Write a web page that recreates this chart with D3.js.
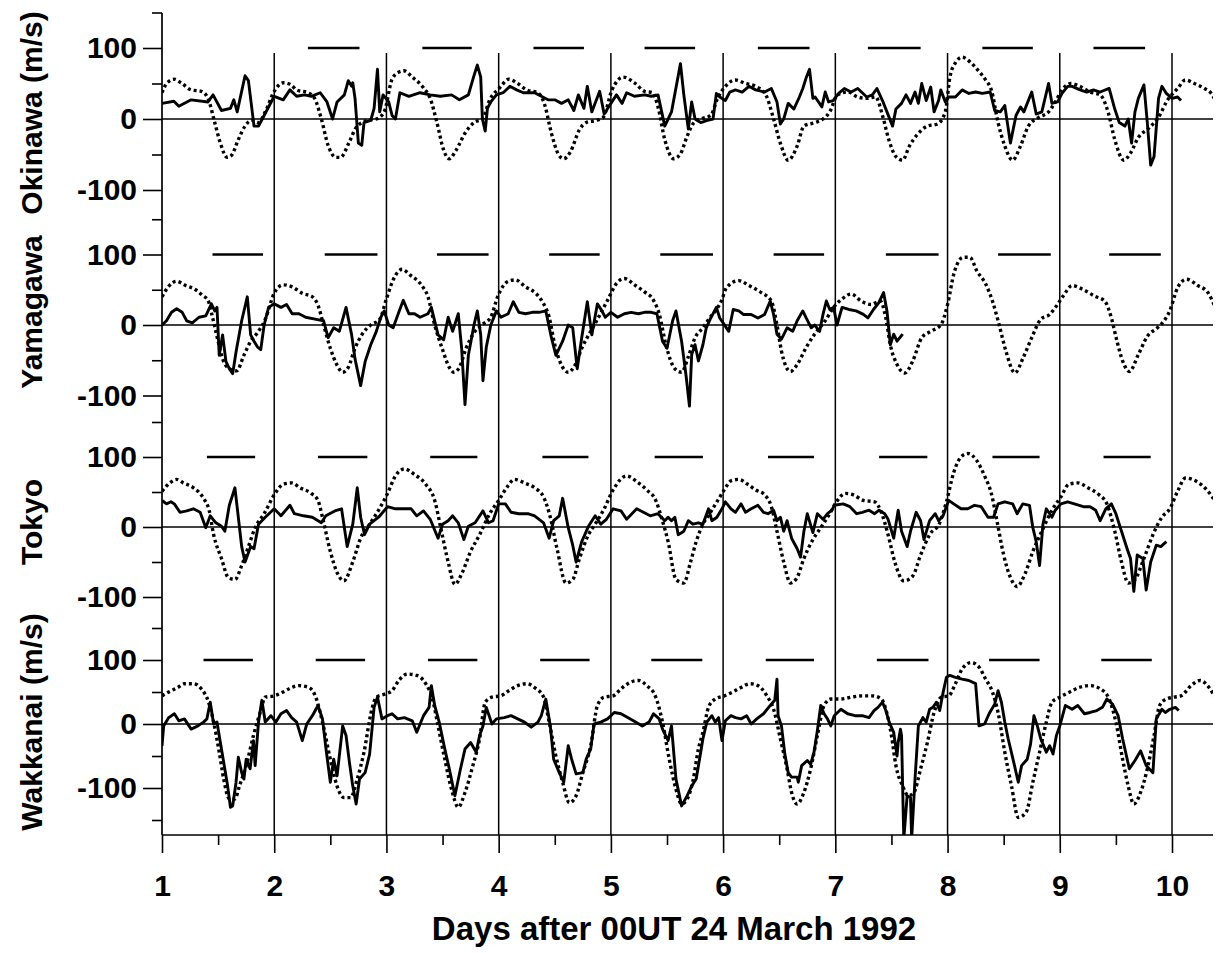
<!DOCTYPE html>
<html><head><meta charset="utf-8">
<script src="https://cdn.jsdelivr.net/npm/d3@7"></script>
<style>
body{margin:0;background:#fff}
svg{display:block}
text{font-family:"Liberation Sans",Arial,sans-serif;fill:#000}
</style>
</head><body><svg id="c" width="1217" height="953"></svg>
<script>
// ---------------- data ----------------
const stations = ["Okinawa", "Yamagawa", "Tokyo", "Wakkanai"];
const yTitles = ["Okinawa (m/s)", "Yamagawa", "Tokyo", "Wakkanai (m/s)"];
const dayTicks = [1, 2, 3, 4, 5, 6, 7, 8, 9, 10];
const valueTicks = [-100, 0, 100];
const valueTickLabels = ["-100", "0", "100"];
const xTitle = "Days after 00UT 24 March 1992";

const okinawaObs = [[1.00,22],[1.106,25],[1.15,18],[1.26,27],[1.41,24],[1.455,34],[1.53,12],[1.61,15],[1.64,27],[1.67,10],[1.74,61],[1.77,54],[1.82,-10],[1.86,-10],[1.91,5],[2.00,32],[2.08,27],[2.14,41],[2.20,32],[2.27,34],[2.33,32],[2.41,37],[2.47,24],[2.52,0],[2.56,24],[2.625,34],[2.66,54],[2.69,46],[2.70,51],[2.72,29],[2.75,-34],[2.78,-37],[2.80,-5],[2.86,-2],[2.89,15],[2.92,70],[2.94,10],[2.97,34],[3.02,24],[3.05,5],[3.08,0],[3.12,37],[3.20,32],[3.30,37],[3.39,34],[3.48,32],[3.58,34],[3.65,27],[3.73,34],[3.78,61],[3.81,76],[3.84,59],[3.855,0],[3.88,-17],[3.90,15],[3.93,24],[3.98,34],[4.04,37],[4.10,46],[4.16,41],[4.22,37],[4.32,37],[4.38,32],[4.44,27],[4.50,27],[4.56,22],[4.62,27],[4.67,12],[4.71,34],[4.76,15],[4.79,46],[4.83,10],[4.90,39],[4.94,7],[5.00,22],[5.05,34],[5.10,22],[5.14,37],[5.21,32],[5.30,34],[5.36,32],[5.42,34],[5.48,-10],[5.54,10],[5.62,78],[5.65,34],[5.69,-14],[5.72,24],[5.75,0],[5.80,-5],[5.86,-2],[5.91,0],[5.94,36],[5.97,31],[6.02,26],[6.06,38],[6.11,41],[6.17,38],[6.23,46],[6.29,41],[6.37,38],[6.43,43],[6.48,24],[6.51,-7],[6.54,0],[6.58,22],[6.63,14],[6.68,31],[6.71,43],[6.74,58],[6.77,70],[6.80,29],[6.82,31],[6.88,17],[6.91,38],[6.94,24],[6.98,26],[7.03,36],[7.08,43],[7.14,38],[7.20,43],[7.28,31],[7.33,34],[7.37,43],[7.42,26],[7.46,10],[7.51,-10],[7.54,14],[7.59,22],[7.63,34],[7.67,22],[7.71,38],[7.74,22],[7.77,50],[7.81,26],[7.85,45],[7.88,10],[7.92,26],[7.94,41],[7.98,24],[8.01,31],[8.07,31],[8.13,41],[8.19,36],[8.25,38],[8.31,36],[8.38,38],[8.42,12],[8.47,10],[8.51,19],[8.56,-34],[8.61,5],[8.65,17],[8.68,10],[8.75,38],[8.79,7],[8.84,10],[8.90,50],[8.93,22],[8.98,24],[9.02,36],[9.07,46],[9.11,46],[9.18,41],[9.24,38],[9.30,41],[9.36,38],[9.44,43],[9.49,14],[9.53,-5],[9.58,-10],[9.61,0],[9.64,-34],[9.67,10],[9.70,29],[9.75,48],[9.78,-5],[9.81,-65],[9.84,-53],[9.88,29],[9.91,46],[9.95,36],[10.00,29],[10.05,31],[10.08,26]];
const okinawaModel = [[1.00,37],[1.045,51],[1.11,56],[1.17,51],[1.26,41],[1.35,39],[1.41,29],[1.47,-5],[1.52,-34],[1.58,-54],[1.62,-51],[1.68,-29],[1.74,-10],[1.80,-2],[1.86,-5],[1.92,10],[2.00,39],[2.08,51],[2.14,49],[2.20,41],[2.30,37],[2.36,29],[2.42,0],[2.48,-37],[2.55,-54],[2.59,-54],[2.67,-32],[2.73,-12],[2.83,-2],[2.91,0],[2.98,10],[3.05,56],[3.11,66],[3.155,68],[3.23,59],[3.33,44],[3.39,29],[3.45,-5],[3.51,-44],[3.56,-56],[3.62,-44],[3.70,-20],[3.78,-5],[3.855,0],[3.92,27],[4.01,44],[4.09,56],[4.16,51],[4.25,41],[4.35,37],[4.41,20],[4.47,-20],[4.53,-49],[4.58,-56],[4.64,-46],[4.72,-15],[4.78,-5],[4.87,-2],[4.93,2],[5.01,41],[5.11,59],[5.21,51],[5.30,39],[5.37,37],[5.42,17],[5.48,-29],[5.56,-56],[5.62,-49],[5.68,-24],[5.74,-5],[5.80,0],[5.89,5],[5.95,29],[6.02,46],[6.11,55],[6.20,50],[6.29,46],[6.38,34],[6.45,0],[6.51,-34],[6.58,-58],[6.66,-38],[6.72,-10],[6.82,-5],[6.89,0],[6.95,10],[7.02,34],[7.11,38],[7.20,31],[7.28,29],[7.36,31],[7.42,5],[7.48,-31],[7.54,-53],[7.60,-58],[7.66,-38],[7.73,-22],[7.82,-10],[7.91,-7],[7.98,10],[8.02,58],[8.07,79],[8.13,87],[8.21,79],[8.28,67],[8.34,55],[8.39,41],[8.45,-5],[8.51,-38],[8.58,-58],[8.65,-38],[8.72,-10],[8.81,2],[8.90,10],[8.96,24],[9.02,41],[9.10,50],[9.18,46],[9.27,38],[9.36,34],[9.43,10],[9.49,-29],[9.57,-58],[9.63,-48],[9.70,-26],[9.80,-12],[9.89,5],[9.95,24],[10.05,43],[10.12,55],[10.20,50],[10.29,43],[10.35,36],[10.40,22]];

const yamagawaObs = [[1.00,0],[1.04,6],[1.085,18],[1.13,23],[1.18,18],[1.22,6],[1.27,3],[1.33,11],[1.39,13],[1.44,30],[1.47,20],[1.49,25],[1.51,-43],[1.54,-14],[1.57,-52],[1.60,-62],[1.63,-69],[1.66,-38],[1.71,6],[1.76,40],[1.79,-14],[1.82,-23],[1.85,-31],[1.88,-35],[1.91,0],[1.95,25],[2.00,30],[2.06,25],[2.11,29],[2.16,16],[2.22,16],[2.28,11],[2.375,8],[2.44,6],[2.48,-18],[2.53,-4],[2.58,-9],[2.64,25],[2.69,-14],[2.72,-48],[2.77,-86],[2.81,-52],[2.86,-28],[2.91,-9],[2.95,11],[2.98,20],[3.02,0],[3.06,-4],[3.11,18],[3.15,35],[3.20,16],[3.25,16],[3.30,11],[3.37,16],[3.40,25],[3.46,-14],[3.51,-21],[3.55,11],[3.59,-9],[3.64,16],[3.67,-33],[3.70,-113],[3.73,-43],[3.78,0],[3.81,20],[3.84,-14],[3.86,-79],[3.89,-31],[3.93,0],[3.98,20],[4.02,11],[4.085,16],[4.13,33],[4.18,18],[4.24,16],[4.30,18],[4.36,18],[4.42,20],[4.47,-18],[4.51,-43],[4.57,-23],[4.62,0],[4.66,-4],[4.70,-62],[4.74,-18],[4.79,33],[4.83,-14],[4.88,30],[4.92,20],[4.95,11],[5.00,18],[5.06,11],[5.12,16],[5.18,18],[5.245,16],[5.30,18],[5.36,18],[5.41,16],[5.46,-23],[5.50,-33],[5.55,6],[5.58,20],[5.63,-23],[5.67,-72],[5.70,-115],[5.72,-42],[5.75,-28],[5.78,-51],[5.82,-28],[5.85,-4],[5.89,10],[5.94,25],[5.97,10],[6.00,3],[6.05,-9],[6.09,22],[6.14,20],[6.18,15],[6.25,15],[6.31,10],[6.37,15],[6.42,34],[6.45,15],[6.48,-13],[6.52,-20],[6.57,-4],[6.62,-9],[6.66,6],[6.71,20],[6.74,10],[6.785,-4],[6.815,0],[6.86,-9],[6.89,15],[6.92,34],[6.95,22],[6.985,25],[7.015,0],[7.06,25],[7.12,22],[7.185,20],[7.25,15],[7.29,10],[7.34,22],[7.385,31],[7.43,46],[7.46,20],[7.49,-28],[7.52,-13],[7.55,-23],[7.60,-13]];
const yamagawaModel = [[1.00,40],[1.055,54],[1.13,62],[1.21,56],[1.30,50],[1.36,42],[1.41,35],[1.45,11],[1.50,-23],[1.54,-48],[1.60,-62],[1.665,-65],[1.73,-43],[1.79,-23],[1.85,-11],[1.92,8],[2.00,45],[2.08,57],[2.16,54],[2.25,45],[2.34,40],[2.39,28],[2.44,0],[2.50,-33],[2.56,-57],[2.61,-67],[2.66,-60],[2.72,-33],[2.78,-14],[2.86,0],[2.94,8],[3.00,37],[3.06,64],[3.14,79],[3.21,71],[3.31,57],[3.37,40],[3.43,0],[3.50,-35],[3.56,-60],[3.60,-67],[3.65,-60],[3.71,-33],[3.78,-11],[3.85,0],[3.93,11],[3.99,40],[4.085,62],[4.15,64],[4.24,54],[4.33,45],[4.39,33],[4.45,11],[4.50,-28],[4.56,-57],[4.62,-67],[4.68,-57],[4.74,-33],[4.82,-9],[4.88,8],[4.97,35],[5.05,59],[5.12,66],[5.21,57],[5.30,47],[5.38,35],[5.43,16],[5.49,-28],[5.57,-62],[5.63,-67],[5.69,-45],[5.75,-18],[5.82,-4],[5.88,10],[5.94,22],[5.985,34],[6.03,53],[6.14,63],[6.23,56],[6.34,46],[6.43,34],[6.48,0],[6.52,-37],[6.60,-66],[6.66,-56],[6.74,-32],[6.815,-13],[6.91,6],[6.985,25],[7.06,37],[7.14,44],[7.23,34],[7.32,29],[7.40,34],[7.45,10],[7.49,-28],[7.55,-56],[7.62,-68],[7.69,-51],[7.77,-18],[7.85,-9],[7.94,0],[8.00,29],[8.06,75],[8.14,96],[8.20,96],[8.26,77],[8.34,58],[8.40,34],[8.46,0],[8.52,-37],[8.60,-68],[8.675,-46],[8.75,-18],[8.83,8],[8.91,15],[8.97,27],[9.03,41],[9.11,56],[9.20,51],[9.31,41],[9.40,34],[9.46,10],[9.51,-23],[9.56,-51],[9.62,-66],[9.70,-42],[9.78,-16],[9.87,-4],[9.93,6],[9.98,20],[10.05,53],[10.13,65],[10.23,56],[10.32,46],[10.38,27]];

const tokyoObs = [[1.00,38],[1.04,33],[1.08,36],[1.11,33],[1.16,21],[1.22,23],[1.28,26],[1.34,21],[1.39,-1],[1.43,16],[1.48,6],[1.53,1],[1.56,-6],[1.60,31],[1.65,56],[1.68,14],[1.71,-28],[1.74,-50],[1.79,-28],[1.82,-31],[1.86,4],[1.92,14],[2.00,26],[2.06,16],[2.14,31],[2.18,19],[2.26,16],[2.34,14],[2.42,6],[2.46,16],[2.54,23],[2.60,26],[2.65,-28],[2.70,4],[2.74,56],[2.77,14],[2.805,-11],[2.85,4],[2.93,14],[3.01,29],[3.08,26],[3.14,26],[3.22,26],[3.27,16],[3.33,23],[3.39,11],[3.46,-16],[3.50,4],[3.55,9],[3.59,16],[3.64,6],[3.69,-18],[3.73,1],[3.79,6],[3.86,23],[3.91,6],[3.95,9],[4.00,33],[4.06,33],[4.11,21],[4.18,19],[4.26,19],[4.32,16],[4.40,6],[4.45,-16],[4.49,9],[4.54,16],[4.57,41],[4.62,-1],[4.66,-26],[4.69,-50],[4.74,-21],[4.80,1],[4.86,16],[4.91,4],[4.96,11],[5.02,26],[5.09,23],[5.14,11],[5.23,26],[5.29,21],[5.35,16],[5.42,19],[5.48,9],[5.51,14],[5.54,9],[5.57,14],[5.60,-11],[5.65,-6],[5.69,9],[5.73,4],[5.78,6],[5.82,4],[5.87,26],[5.90,9],[5.945,14],[5.99,26],[6.02,36],[6.07,26],[6.11,21],[6.16,33],[6.20,21],[6.25,26],[6.31,31],[6.36,21],[6.40,19],[6.45,24],[6.48,9],[6.51,14],[6.54,-6],[6.57,9],[6.61,-16],[6.66,-31],[6.69,-43],[6.72,-6],[6.75,19],[6.80,-8],[6.84,19],[6.89,11],[6.93,19],[6.97,24],[6.99,31],[7.07,33],[7.13,29],[7.19,19],[7.24,21],[7.30,24],[7.35,19],[7.39,24],[7.44,19],[7.47,11],[7.52,-16],[7.56,24],[7.59,-6],[7.64,-28],[7.67,-6],[7.72,21],[7.76,9],[7.79,-18],[7.84,9],[7.89,19],[7.92,9],[7.96,16],[8.01,38],[8.055,33],[8.12,26],[8.18,26],[8.24,31],[8.30,29],[8.36,14],[8.41,14],[8.45,33],[8.51,36],[8.58,33],[8.62,19],[8.67,33],[8.73,31],[8.76,-1],[8.79,-21],[8.82,-55],[8.85,4],[8.88,26],[8.93,14],[8.96,24],[9.01,33],[9.07,36],[9.13,33],[9.21,29],[9.27,29],[9.32,24],[9.36,9],[9.41,26],[9.46,33],[9.50,19],[9.55,-6],[9.60,-31],[9.63,-45],[9.66,-92],[9.69,-40],[9.74,-45],[9.77,-90],[9.81,-50],[9.86,-26],[9.90,-28],[9.95,-21]];
const tokyoModel = [[1.00,51],[1.07,63],[1.13,68],[1.19,63],[1.28,56],[1.37,41],[1.42,24],[1.46,-11],[1.53,-45],[1.59,-72],[1.65,-75],[1.71,-55],[1.77,-28],[1.83,-1],[1.91,19],[2.00,46],[2.08,61],[2.155,63],[2.23,56],[2.33,48],[2.39,38],[2.43,14],[2.50,-35],[2.56,-65],[2.62,-77],[2.70,-50],[2.77,-16],[2.85,4],[2.93,24],[3.01,48],[3.08,73],[3.16,83],[3.25,75],[3.35,61],[3.43,38],[3.49,-6],[3.55,-50],[3.61,-82],[3.67,-67],[3.75,-35],[3.83,-11],[3.92,19],[4.00,38],[4.08,58],[4.14,68],[4.23,63],[4.32,56],[4.40,43],[4.46,14],[4.52,-31],[4.60,-80],[4.66,-75],[4.72,-45],[4.80,-11],[4.86,4],[4.94,26],[5.02,53],[5.14,73],[5.23,65],[5.32,53],[5.40,38],[5.45,14],[5.51,-21],[5.58,-75],[5.65,-80],[5.71,-50],[5.76,-21],[5.82,4],[5.88,19],[5.945,36],[6.01,53],[6.07,66],[6.14,68],[6.22,61],[6.29,53],[6.37,46],[6.43,29],[6.48,-6],[6.54,-50],[6.60,-80],[6.66,-72],[6.72,-45],[6.80,-18],[6.87,-1],[6.95,19],[7.01,36],[7.09,48],[7.16,46],[7.25,38],[7.35,36],[7.41,21],[7.47,-11],[7.53,-50],[7.61,-77],[7.69,-70],[7.76,-40],[7.84,-11],[7.93,6],[7.99,36],[8.055,78],[8.12,100],[8.18,105],[8.26,95],[8.33,73],[8.39,48],[8.44,9],[8.50,-40],[8.56,-72],[8.62,-85],[8.69,-67],[8.76,-35],[8.84,-6],[8.93,24],[9.01,43],[9.08,61],[9.16,63],[9.25,56],[9.35,46],[9.42,33],[9.49,-6],[9.55,-50],[9.61,-80],[9.67,-75],[9.75,-45],[9.83,-11],[9.91,14],[9.98,26],[10.05,51],[10.12,70],[10.22,65],[10.31,53],[10.39,36]];

const wakkanaiObs = [[1.00,-34],[1.015,-3],[1.06,10],[1.11,16],[1.15,5],[1.20,8],[1.26,-8],[1.32,-3],[1.37,3],[1.40,8],[1.43,34],[1.46,0],[1.49,3],[1.52,-29],[1.55,-60],[1.585,-97],[1.61,-130],[1.63,-128],[1.66,-91],[1.68,-52],[1.71,-76],[1.73,-86],[1.75,-55],[1.785,-70],[1.815,-26],[1.83,-65],[1.86,3],[1.89,37],[1.92,3],[1.97,13],[2.015,3],[2.06,16],[2.11,21],[2.155,10],[2.20,3],[2.25,-26],[2.29,0],[2.34,13],[2.39,29],[2.43,8],[2.46,-37],[2.50,-91],[2.53,-55],[2.56,-81],[2.61,-3],[2.64,-18],[2.67,-60],[2.70,-97],[2.73,-125],[2.76,-86],[2.81,-76],[2.85,-47],[2.89,26],[2.92,42],[2.96,8],[3.01,13],[3.05,16],[3.10,8],[3.16,10],[3.23,5],[3.27,-13],[3.33,13],[3.38,26],[3.40,60],[3.43,29],[3.47,3],[3.52,-39],[3.56,-70],[3.61,-112],[3.66,-70],[3.70,-39],[3.75,-29],[3.80,-44],[3.83,-18],[3.86,-3],[3.89,26],[3.94,0],[3.98,8],[4.05,10],[4.11,13],[4.17,8],[4.23,3],[4.29,-5],[4.35,3],[4.38,13],[4.42,39],[4.46,-3],[4.49,-55],[4.54,-76],[4.58,-91],[4.62,-34],[4.65,-55],[4.69,-78],[4.75,-76],[4.78,-55],[4.82,-39],[4.85,0],[4.91,3],[4.97,8],[5.03,18],[5.09,16],[5.15,10],[5.22,3],[5.28,-3],[5.34,3],[5.38,16],[5.43,8],[5.46,-8],[5.51,-26],[5.54,-3],[5.58,-86],[5.63,-128],[5.68,-112],[5.72,-97],[5.76,-86],[5.79,-55],[5.82,-23],[5.855,3],[5.90,13],[5.93,3],[5.96,10],[5.99,-26],[6.02,5],[6.07,13],[6.11,10],[6.16,8],[6.21,13],[6.25,0],[6.30,8],[6.36,16],[6.42,29],[6.46,37],[6.48,70],[6.49,13],[6.52,-3],[6.55,-47],[6.58,-76],[6.61,-83],[6.66,-83],[6.67,-91],[6.70,-65],[6.75,-57],[6.78,-63],[6.81,-44],[6.84,-10],[6.87,29],[6.90,16],[6.93,8],[6.96,-3],[6.99,13],[7.05,23],[7.11,16],[7.175,13],[7.24,13],[7.30,10],[7.345,21],[7.38,26],[7.42,34],[7.45,21],[7.48,3],[7.52,-13],[7.55,-50],[7.56,-29],[7.58,-8],[7.59,-18],[7.61,-180],[7.64,-112],[7.67,-115],[7.68,-180],[7.71,-86],[7.74,-3],[7.78,10],[7.81,3],[7.84,23],[7.87,26],[7.90,34],[7.93,21],[7.96,49],[7.99,73],[8.02,76],[8.07,73],[8.13,70],[8.19,68],[8.25,63],[8.28,-3],[8.33,0],[8.37,16],[8.42,31],[8.45,52],[8.48,34],[8.51,3],[8.54,-23],[8.59,-60],[8.63,-91],[8.66,-65],[8.71,-55],[8.74,-31],[8.77,13],[8.80,-3],[8.83,-23],[8.88,-44],[8.91,-34],[8.94,-47],[8.97,-18],[9.00,-3],[9.05,29],[9.11,23],[9.16,29],[9.22,16],[9.27,18],[9.33,21],[9.38,26],[9.42,39],[9.47,31],[9.52,13],[9.56,-23],[9.62,-70],[9.67,-57],[9.72,-42],[9.77,-65],[9.83,-76],[9.86,8],[9.91,23],[9.94,18],[9.98,23],[10.03,26],[10.06,21]];
const wakkanaiModel = [[1.00,44],[1.06,50],[1.14,57],[1.20,63],[1.28,63],[1.35,55],[1.415,34],[1.46,3],[1.51,-44],[1.55,-86],[1.60,-117],[1.65,-117],[1.69,-97],[1.75,-65],[1.815,-18],[1.88,21],[1.92,42],[2.00,44],[2.08,50],[2.155,57],[2.22,60],[2.31,57],[2.37,42],[2.43,3],[2.50,-55],[2.56,-97],[2.62,-115],[2.68,-115],[2.74,-86],[2.80,-44],[2.87,23],[2.91,42],[2.99,47],[3.05,52],[3.11,68],[3.19,78],[3.27,76],[3.35,63],[3.41,39],[3.46,-3],[3.52,-55],[3.58,-102],[3.64,-130],[3.70,-107],[3.77,-65],[3.83,-23],[3.88,34],[3.94,42],[4.02,44],[4.09,52],[4.17,60],[4.25,63],[4.32,57],[4.40,42],[4.45,3],[4.51,-50],[4.57,-91],[4.63,-123],[4.69,-112],[4.75,-76],[4.82,-34],[4.88,29],[4.94,42],[5.02,44],[5.09,55],[5.17,65],[5.25,68],[5.32,60],[5.40,42],[5.46,3],[5.52,-55],[5.58,-102],[5.63,-125],[5.68,-117],[5.73,-90],[5.78,-39],[5.82,-13],[5.87,26],[5.93,39],[6.01,44],[6.085,50],[6.16,57],[6.24,63],[6.31,60],[6.39,44],[6.45,23],[6.51,-23],[6.57,-70],[6.61,-107],[6.66,-125],[6.72,-107],[6.78,-70],[6.84,-18],[6.90,29],[6.96,39],[7.05,39],[7.145,42],[7.24,44],[7.33,44],[7.41,39],[7.45,23],[7.50,-18],[7.54,-65],[7.60,-97],[7.65,-112],[7.70,-107],[7.76,-70],[7.82,-29],[7.88,18],[7.945,42],[8.01,44],[8.07,63],[8.13,86],[8.21,96],[8.28,89],[8.34,70],[8.40,50],[8.45,18],[8.51,-44],[8.57,-97],[8.63,-146],[8.70,-138],[8.76,-91],[8.82,-44],[8.88,3],[8.93,34],[9.00,42],[9.09,50],[9.17,57],[9.27,60],[9.36,55],[9.44,39],[9.50,3],[9.56,-55],[9.61,-97],[9.66,-125],[9.72,-107],[9.78,-70],[9.84,-18],[9.89,29],[9.95,39],[10.02,42],[10.08,44],[10.17,60],[10.25,68],[10.33,57],[10.405,34]];

// night-time bars drawn at the +100 level: [start day, end day]
const okinawaNight = [[2.30,2.76],[3.32,3.76],[4.31,4.76],[5.30,5.75],[6.31,6.77],[7.29,7.76],[8.31,8.76],[9.30,9.76]];
const yamagawaNight = [[1.45,1.90],[2.45,2.92],[3.45,3.91],[4.45,4.90],[5.44,5.91],[6.45,6.90],[7.45,7.92],[8.45,8.92],[9.44,9.90]];
const tokyoNight = [[1.40,1.83],[2.39,2.83],[3.39,3.81],[4.39,4.80],[5.39,5.82],[6.40,6.81],[7.39,7.82],[8.40,8.82],[9.39,9.81]];
const wakkanaiNight = [[1.37,1.81],[2.37,2.81],[3.37,3.81],[4.37,4.81],[5.36,5.815],[6.38,6.81],[7.37,7.83],[8.37,8.82],[9.37,9.82]];
const nightLevel = 100;

// ---------------- layout ----------------
const svg = d3.select("#c");
const W = 1217, H = 953;
const plotLeft = 162, plotRight = 1213, plotTop = 13, plotBottom = 835;
const x = d3.scaleLinear().domain([1, 10]).range([162, 1172]);
const FONT = "Liberation Sans, Arial, sans-serif";

const panelZero = [119, 325, 527, 724];
const panelHalf = [71, 70.5, 70, 64];   // px per 100 m/s
const ys = panelZero.map((z, i) => d3.scaleLinear().domain([-100, 100]).range([z + panelHalf[i], z - panelHalf[i]]));

const obs = [okinawaObs, yamagawaObs, tokyoObs, wakkanaiObs];
const model = [okinawaModel, yamagawaModel, tokyoModel, wakkanaiModel];
const nights = [okinawaNight, yamagawaNight, tokyoNight, wakkanaiNight];

svg.append("rect").attr("width", W).attr("height", H).attr("fill", "#fff");

svg.append("defs").append("clipPath").attr("id", "clip")
  .append("rect").attr("x", plotLeft).attr("y", plotTop)
  .attr("width", plotRight - plotLeft).attr("height", plotBottom - plotTop);

// vertical day grid lines
const gridTop = ys[0](93);
svg.append("g").selectAll("line").data(dayTicks.slice(1)).join("line")
  .attr("x1", d => x(d)).attr("x2", d => x(d))
  .attr("y1", gridTop).attr("y2", plotBottom)
  .attr("stroke", "#000").attr("stroke-width", 1.5);

// zero lines
svg.append("g").selectAll("line").data(ys).join("line")
  .attr("x1", plotLeft).attr("x2", plotRight)
  .attr("y1", y => y(0)).attr("y2", y => y(0))
  .attr("stroke", "#000").attr("stroke-width", 1.7);

// left axis line
svg.append("line").attr("x1", plotLeft).attr("x2", plotLeft)
  .attr("y1", plotTop).attr("y2", plotBottom).attr("stroke", "#000").attr("stroke-width", 1.7);
// bottom axis line
svg.append("line").attr("x1", plotLeft).attr("x2", plotRight)
  .attr("y1", plotBottom).attr("y2", plotBottom).attr("stroke", "#000").attr("stroke-width", 1.7);

// y axes per panel
ys.forEach((y, i) => {
  const major = svg.append("g").attr("transform", `translate(${plotLeft},0)`)
    .call(d3.axisLeft(y).tickValues(valueTicks).tickSize(19).tickPadding(6)
      .tickFormat((d, k) => valueTickLabels[k]));
  major.select(".domain").remove();
  major.selectAll("line").attr("stroke-width", 1.6);
  major.selectAll("text").attr("font-size", 30).attr("font-weight", "bold").attr("font-family", FONT);
  const minorVals = i === 3 ? [-150, -50, 50, 150] : [-50, 50, 150];
  const minor = svg.append("g").attr("transform", `translate(${plotLeft},0)`)
    .call(d3.axisLeft(y).tickValues(minorVals).tickSize(10).tickFormat(""));
  minor.select(".domain").remove();
  minor.selectAll("line").attr("stroke-width", 1.6);
});

// x axis
const xa = svg.append("g").attr("transform", `translate(0,${plotBottom})`)
  .call(d3.axisBottom(x).tickValues(dayTicks).tickSize(18).tickPadding(22).tickFormat(d3.format("d")));
xa.select(".domain").remove();
xa.selectAll("line").attr("stroke-width", 1.6);
xa.selectAll("text").attr("font-size", 30).attr("font-weight", "bold").attr("font-family", FONT);
const halfDays = d3.range(1.5, 10.5, 1);
const xm = svg.append("g").attr("transform", `translate(0,${plotBottom})`)
  .call(d3.axisBottom(x).tickValues(halfDays).tickSize(10).tickFormat(""));
xm.select(".domain").remove();
xm.selectAll("line").attr("stroke-width", 1.6);

// x title
svg.append("text").attr("x", 674).attr("y", 940).attr("text-anchor", "middle")
  .attr("font-size", 33).attr("font-weight", "bold").text(xTitle);

// y titles
const titleCenters = [113, 312, 522, 722];
yTitles.forEach((t, i) => {
  svg.append("text").attr("transform", `translate(42,${titleCenters[i]}) rotate(-90)`)
    .attr("text-anchor", "middle").attr("font-size", 30).attr("font-weight", "bold").text(t);
});

// data
const plot = svg.append("g").attr("clip-path", "url(#clip)");
ys.forEach((y, i) => {
  plot.append("g").selectAll("line").data(nights[i]).join("line")
    .attr("x1", d => x(d[0])).attr("x2", d => x(d[1]))
    .attr("y1", y(nightLevel)).attr("y2", y(nightLevel))
    .attr("stroke", "#000").attr("stroke-width", 2.6);
  const modelLine = d3.line().x(d => x(d[0])).y(d => y(d[1])).curve(d3.curveMonotoneX);
  plot.append("path").datum(model[i])
    .attr("d", modelLine)
    .attr("fill", "none").attr("stroke", "#000").attr("stroke-width", 3.4)
    .attr("stroke-dasharray", "3 3");
  const obsLine = d3.line().x(d => x(d[0])).y(d => y(d[1]));
  plot.append("path").datum(obs[i])
    .attr("d", obsLine)
    .attr("fill", "none").attr("stroke", "#000").attr("stroke-width", 2.9)
    .attr("stroke-linejoin", "round");
});
</script>
</body></html>
